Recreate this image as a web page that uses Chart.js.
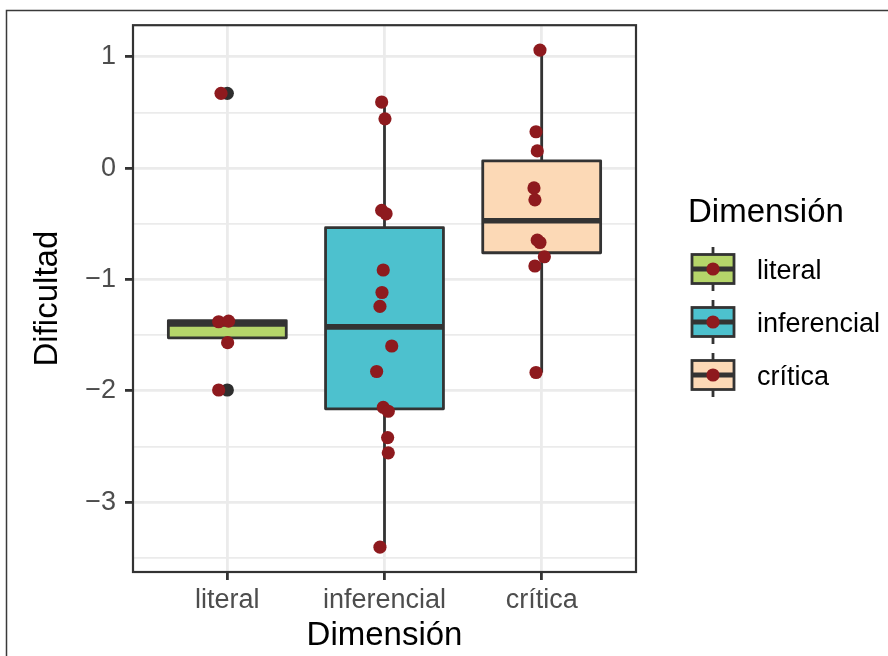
<!DOCTYPE html>
<html>
<head>
<meta charset="utf-8">
<script src="https://cdn.jsdelivr.net/npm/chart.js@4.4.1/dist/chart.umd.min.js"></script>
<style>
    html, body { margin: 0; padding: 0; background: #fff; }
    #wrap { position: relative; width: 888px; height: 656px; }
</style>
</head>
<body>
<div id="wrap"><canvas id="chart" width="888" height="656"></canvas></div>
<script>
// categories and box colours
const categories = ['literal', 'inferencial', 'crítica'];
const boxFill = ['#B5D56A', '#4DC1CE', '#FCD9B6'];

// box summaries
const whiskerLow = [-1.524, -3.405, -1.836];
const quartile1 = [-1.524, -2.162, -0.760];
const medians = [-1.400, -1.426, -0.472];
const quartile3 = [-1.369, -0.535, 0.066];
const whiskerHigh = [-1.369, 0.594, 1.061];

// outliers (boxplot layer)
const outlierCat = [0, 0];
const outlierVal = [0.672, -1.993];

// jittered observations: category index, horizontal jitter, value
const pointCat = [0, 0, 0, 0, 0,
    1, 1, 1, 1, 1, 1, 1, 1, 1, 1, 1, 1, 1, 1,
    2, 2, 2, 2, 2, 2, 2, 2, 2, 2];
const pointJitter = [-0.040, -0.055, 0.008, 0.002, -0.055,
    -0.018, 0.003, -0.018, 0.010, -0.008, -0.016, -0.029, 0.046, -0.050, -0.008, 0.024, 0.020, 0.024, -0.029,
    -0.011, -0.036, -0.028, -0.049, -0.043, -0.028, -0.011, 0.017, -0.043, -0.036];
const pointVal = [0.672, -1.380, -1.375, -1.568, -1.993,
    0.594, 0.443, -0.380, -0.410, -0.915, -1.117, -1.242, -1.598, -1.827, -2.150, -2.184, -2.421, -2.558, -3.405,
    1.061, 0.327, 0.155, -0.178, -0.285, -0.647, -0.668, -0.796, -0.879, -1.836];

const yMajorTicks = [-3, -2, -1, 0, 1];
const yMinorTicks = [-3.5, -2.5, -1.5, -0.5, 0.5];

const FONT = '"Liberation Sans", Arial, Helvetica, sans-serif';
const DARK = '#333333';
const GRID = '#EBEBEB';
const POINT_RED = '#8E1A1E';

// ggplot-like 5% expansion of the y range
const allVals = pointVal.concat(outlierVal, whiskerLow, whiskerHigh);
const yLo = Math.min(...allVals);
const yHi = Math.max(...allVals);
const yPad = (yHi - yLo) * 0.05;

function minusLabel(v) {
    return v < 0 ? '\u2212' + Math.abs(v) : String(v);
}

// draws boxes, whiskers and medians using the chart scales
const boxPlugin = {
    id: 'boxes',
    beforeDatasetsDraw(chart) {
        const ctx = chart.ctx;
        const xs = chart.scales.x;
        const ys = chart.scales.y;
        const halfW = 0.375;
        ctx.save();
        categories.forEach((cat, i) => {
            const xc = xs.getPixelForValue(i + 1);
            const xl = xs.getPixelForValue(i + 1 - halfW);
            const xr = xs.getPixelForValue(i + 1 + halfW);
            const yq1 = ys.getPixelForValue(quartile1[i]);
            const yq3 = ys.getPixelForValue(quartile3[i]);
            ctx.strokeStyle = DARK;
            ctx.lineWidth = 2.8;
            ctx.beginPath();
            ctx.moveTo(xc, ys.getPixelForValue(whiskerHigh[i]));
            ctx.lineTo(xc, yq3);
            ctx.moveTo(xc, yq1);
            ctx.lineTo(xc, ys.getPixelForValue(whiskerLow[i]));
            ctx.stroke();
            ctx.fillStyle = boxFill[i];
            ctx.fillRect(xl, yq3, xr - xl, yq1 - yq3);
            ctx.lineJoin = 'round';
            ctx.strokeRect(xl, yq3, xr - xl, yq1 - yq3);
            ctx.lineWidth = 5.6;
            ctx.lineCap = 'butt';
            ctx.beginPath();
            const ym = ys.getPixelForValue(medians[i]);
            ctx.moveTo(xl, ym);
            ctx.lineTo(xr, ym);
            ctx.stroke();
        });
        ctx.restore();
    },
    afterDatasetsDraw(chart) {
        const a = chart.chartArea;
        const ctx = chart.ctx;
        ctx.save();
        ctx.strokeStyle = DARK;
        ctx.lineWidth = 2.2;
        ctx.strokeRect(a.left, a.top, a.right - a.left, a.bottom - a.top);
        ctx.restore();
    }
};

// outer frame of the figure
const framePlugin = {
    id: 'frame',
    beforeDraw(chart) {
        const ctx = chart.ctx;
        ctx.save();
        ctx.fillStyle = '#fff';
        ctx.fillRect(0, 0, chart.width, chart.height);
        ctx.strokeStyle = '#3a3a3a';
        ctx.lineWidth = 1.5;
        ctx.beginPath();
        ctx.moveTo(6.5, chart.height);
        ctx.lineTo(6.5, 10.5);
        ctx.lineTo(chart.width, 10.5);
        ctx.stroke();
        ctx.restore();
    }
};

// legend with boxplot keys
const legendPlugin = {
    id: 'boxLegend',
    afterDraw(chart) {
        const ctx = chart.ctx;
        ctx.save();
        ctx.fillStyle = '#000';
        ctx.font = '33px ' + FONT;
        ctx.textAlign = 'left';
        ctx.textBaseline = 'alphabetic';
        ctx.fillText('Dimensión', 688, 222);
        categories.forEach((cat, i) => {
            const cy = 269 + i * 53;
            const kx = 692, kw = 42, xc = kx + kw / 2;
            ctx.strokeStyle = DARK;
            ctx.lineWidth = 2.8;
            ctx.beginPath();
            ctx.moveTo(xc, cy - 22);
            ctx.lineTo(xc, cy + 22);
            ctx.stroke();
            ctx.fillStyle = boxFill[i];
            ctx.fillRect(kx, cy - 14.5, kw, 29);
            ctx.strokeRect(kx, cy - 14.5, kw, 29);
            ctx.lineWidth = 5;
            ctx.beginPath();
            ctx.moveTo(kx, cy);
            ctx.lineTo(kx + kw, cy);
            ctx.stroke();
            ctx.fillStyle = POINT_RED;
            ctx.beginPath();
            ctx.arc(xc, cy, 6.6, 0, Math.PI * 2);
            ctx.fill();
            ctx.fillStyle = '#000';
            ctx.font = '27px ' + FONT;
            ctx.fillText(cat, 757, cy + 10);
        });
        ctx.restore();
    }
};

const ctx = document.getElementById('chart').getContext('2d');
new Chart(ctx, {
    type: 'scatter',
    data: {
        datasets: [
            {
                label: 'observaciones',
                data: pointVal.map((v, i) => ({ x: pointCat[i] + 1 + pointJitter[i], y: v })),
                backgroundColor: POINT_RED,
                borderWidth: 0,
                pointRadius: 6.6
            },
            {
                label: 'atípicos',
                data: outlierVal.map((v, i) => ({ x: outlierCat[i] + 1, y: v })),
                backgroundColor: '#2E2E2E',
                borderWidth: 0,
                pointRadius: 6.6
            }
        ]
    },
    options: {
        responsive: false,
        animation: false,
        events: [],
        layout: { padding: { left: 8, top: 22, right: 252, bottom: 0 } },
        plugins: {
            legend: { display: false },
            tooltip: { enabled: false }
        },
        scales: {
            x: {
                type: 'linear',
                min: 0.4,
                max: 3.6,
                afterBuildTicks: s => { s.ticks = categories.map((c, i) => ({ value: i + 1 })); },
                afterFit: s => { s.height = 84; },
                ticks: {
                    callback: v => categories[Math.round(v) - 1],
                    font: { family: FONT, size: 27 },
                    color: '#4D4D4D',
                    padding: 4,
                    autoSkip: false,
                    maxRotation: 0
                },
                grid: {
                    color: GRID,
                    lineWidth: 2.8,
                    tickColor: DARK,
                    tickLength: 8,
                    tickWidth: 2.8
                },
                border: { display: false },
                title: {
                    display: true,
                    text: 'Dimensión',
                    font: { family: FONT, size: 33 },
                    color: '#000',
                    padding: 0
                }
            },
            y: {
                min: yLo - yPad,
                max: yHi + yPad,
                afterBuildTicks: s => {
                    s.ticks = yMinorTicks.concat(yMajorTicks).sort((a, b) => a - b).map(v => ({ value: v }));
                },
                afterFit: s => { s.width = 125; },
                ticks: {
                    callback: v => yMajorTicks.includes(v) ? minusLabel(v) : '',
                    font: { family: FONT, size: 27 },
                    color: '#4D4D4D',
                    padding: 9,
                    autoSkip: false
                },
                grid: {
                    color: GRID,
                    lineWidth: c => yMajorTicks.includes(c.tick.value) ? 2.8 : 1.8,
                    tickColor: c => yMajorTicks.includes(c.tick.value) ? DARK : 'rgba(0,0,0,0)',
                    tickLength: 8,
                    tickWidth: 2.8
                },
                border: { display: false },
                title: {
                    display: true,
                    text: 'Dificultad',
                    font: { family: FONT, size: 33 },
                    color: '#000',
                    padding: { top: 20, bottom: 0 }
                }
            }
        }
    },
    plugins: [framePlugin, boxPlugin, legendPlugin]
});
</script>
</body>
</html>
